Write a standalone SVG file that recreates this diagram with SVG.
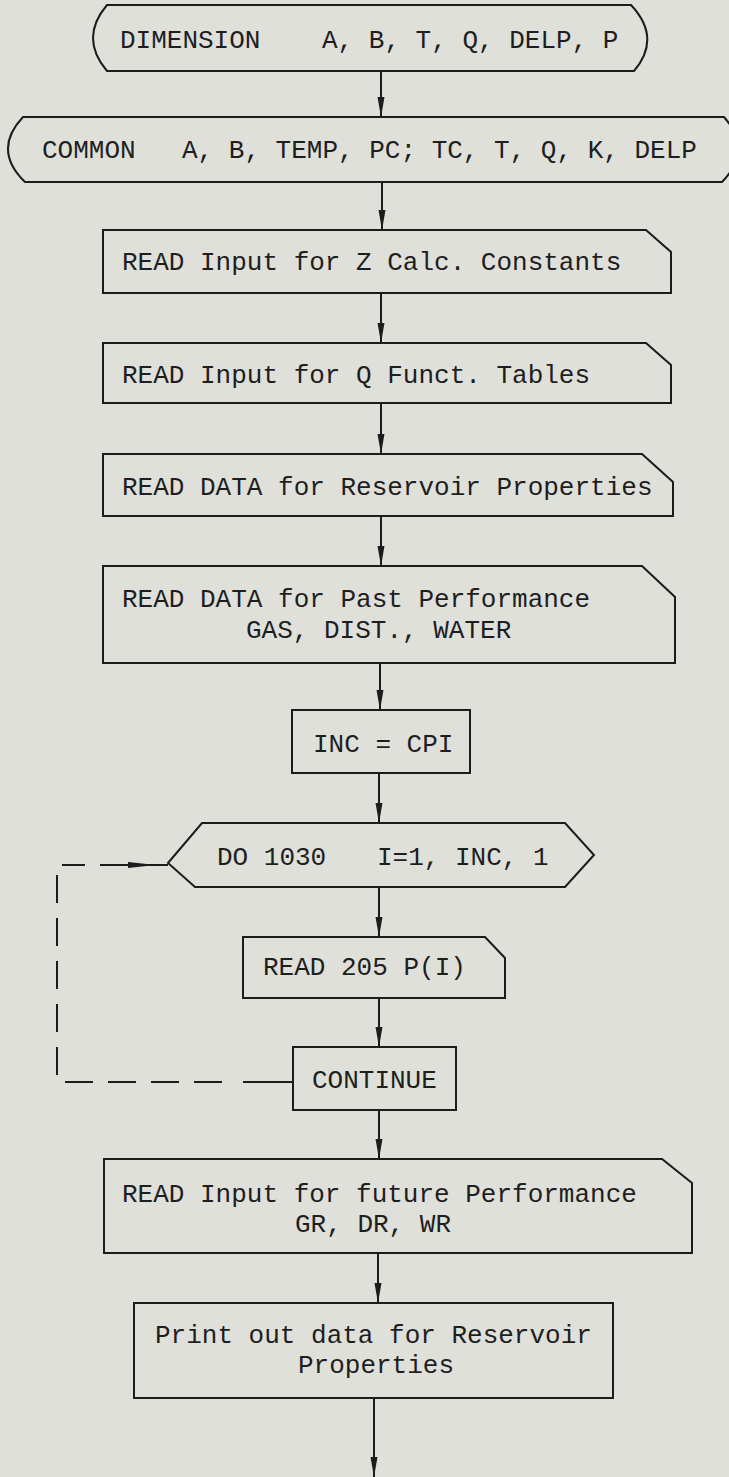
<svg xmlns="http://www.w3.org/2000/svg" width="729" height="1477" viewBox="0 0 729 1477">
<style>
.s{fill:none;stroke:#1c1c1c;stroke-width:2;stroke-linejoin:miter}
.t{font-family:"Liberation Mono","DejaVu Sans Mono",monospace;font-size:26px;fill:#1e1e1e}
.c{fill:none;stroke:#1c1c1c;stroke-width:2}
.d{fill:none;stroke:#1c1c1c;stroke-width:2;stroke-dasharray:28 15}
</style>
<defs>
<marker id="ah" viewBox="0 0 20 8" refX="20" refY="4" markerWidth="20" markerHeight="8" markerUnits="userSpaceOnUse" orient="auto">
<path d="M0,0.5 L20,4 L0,7.5 Z" fill="#1c1c1c"/>
</marker>
</defs>
<rect x="0" y="0" width="729" height="1477" fill="#dfe0da"/>

<g id="connectors">
<line class="c" x1="381" y1="71" x2="381" y2="117" marker-end="url(#ah)"/>
<line class="c" x1="382" y1="182" x2="382" y2="230" marker-end="url(#ah)"/>
<line class="c" x1="381" y1="293" x2="381" y2="343" marker-end="url(#ah)"/>
<line class="c" x1="381" y1="403" x2="381" y2="454" marker-end="url(#ah)"/>
<line class="c" x1="381" y1="516" x2="381" y2="566" marker-end="url(#ah)"/>
<line class="c" x1="380" y1="663" x2="380" y2="710" marker-end="url(#ah)"/>
<line class="c" x1="379" y1="773" x2="379" y2="823" marker-end="url(#ah)"/>
<line class="c" x1="379" y1="887" x2="379" y2="937" marker-end="url(#ah)"/>
<line class="c" x1="379" y1="998" x2="379" y2="1047" marker-end="url(#ah)"/>
<line class="c" x1="379" y1="1110" x2="379" y2="1159" marker-end="url(#ah)"/>
<line class="c" x1="378" y1="1253" x2="378" y2="1303" marker-end="url(#ah)"/>
<line class="c" x1="374" y1="1398" x2="374" y2="1477" marker-end="url(#ah)"/>
<line class="c" x1="293" y1="1082" x2="243" y2="1082"/>
<path class="d" d="M222,1082 L57,1082 L57,865 L85,865"/>
<line class="c" x1="100" y1="865" x2="168" y2="865"/>
<path d="M128,862 L156,865 L128,868 Z" fill="#1c1c1c"/>
</g>

<g id="dimension">
<path class="s" d="M107,5 L631,5 Q662,38 634,71 L107,71 Q79,38 107,5 Z"/>
<text class="t" x="120" y="48">DIMENSION</text>
<text class="t" x="322" y="48">A, B, T, Q, DELP, P</text>
</g>

<g id="common">
<path class="s" d="M23,117 L724,117 Q753,150 722,182 L25,182 Q-8,150 23,117 Z"/>
<text class="t" x="42" y="158">COMMON</text>
<text class="t" x="182" y="158">A, B, TEMP, PC; TC, T, Q, K, DELP</text>
</g>

<g id="read-z">
<path class="s" d="M103,230 L646,230 L671,252 L671,293 L103,293 Z"/>
<text class="t" x="122" y="270">READ Input for Z Calc. Constants</text>
</g>

<g id="read-q">
<path class="s" d="M103,343 L646,343 L671,365 L671,403 L103,403 Z"/>
<text class="t" x="122" y="383">READ Input for Q Funct. Tables</text>
</g>

<g id="read-reservoir">
<path class="s" d="M103,454 L642,454 L673,482 L673,516 L103,516 Z"/>
<text class="t" x="122" y="495">READ DATA for Reservoir Properties</text>
</g>

<g id="read-past">
<path class="s" d="M103,566 L642,566 L675,597 L675,663 L103,663 Z"/>
<text class="t" x="122" y="607">READ DATA for Past Performance</text>
<text class="t" x="246" y="638">GAS, DIST., WATER</text>
</g>

<g id="inc">
<rect class="s" x="292" y="710" width="178" height="63"/>
<text class="t" x="313" y="752">INC = CPI</text>
</g>

<g id="do-loop">
<path class="s" d="M168,863 L202,823 L565,823 L594,855 L565,887 L195,887 Z"/>
<text class="t" x="217" y="865">DO 1030</text>
<text class="t" x="377" y="865">I=1, INC, 1</text>
</g>

<g id="read-205">
<path class="s" d="M243,937 L485,937 L505,958 L505,998 L243,998 Z"/>
<text class="t" x="263" y="975">READ 205 P(I)</text>
</g>

<g id="continue">
<rect class="s" x="293" y="1047" width="163" height="63"/>
<text class="t" x="312" y="1088">CONTINUE</text>
</g>

<g id="read-future">
<path class="s" d="M104,1159 L662,1159 L692,1183 L692,1253 L104,1253 Z"/>
<text class="t" x="122" y="1202">READ Input for future Performance</text>
<text class="t" x="295" y="1232">GR, DR, WR</text>
</g>

<g id="print">
<rect class="s" x="134" y="1303" width="479" height="95"/>
<text class="t" x="155" y="1343">Print out data for Reservoir</text>
<text class="t" x="298" y="1373">Properties</text>
</g>
</svg>
